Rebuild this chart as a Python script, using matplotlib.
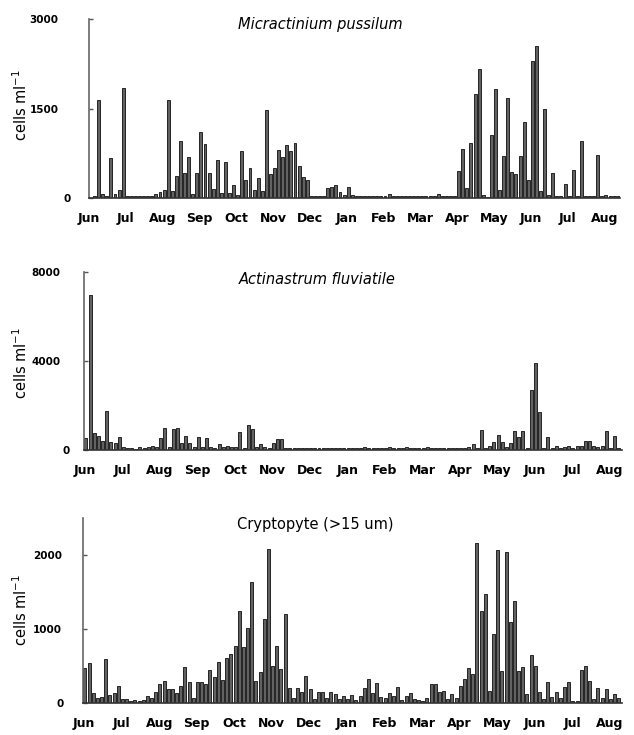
import matplotlib
matplotlib.use('Agg')
import matplotlib.pyplot as plt
import matplotlib.transforms as mtransforms
import numpy as np

months = ['Jun', 'Jul', 'Aug', 'Sep', 'Oct', 'Nov', 'Dec', 'Jan',
          'Feb', 'Mar', 'Apr', 'May', 'Jun', 'Jul', 'Aug']

# cells per ml, one value per sampling date (about 9 per month)
micr = [40, 1640, 60, 40, 670, 60, 130, 1840, 30,
        30, 30, 30, 30, 30, 30, 60, 100, 130,
        1640, 120, 370, 960, 420, 690, 60, 420, 1100,
        900, 420, 150, 640, 80, 610, 80, 210, 50,
        790, 310, 510, 130, 330, 120, 1470, 400, 510,
        800, 680, 890, 790, 930, 530, 360, 310, 40,
        40, 40, 40, 170, 190, 220, 100, 50, 190,
        50, 30, 30, 30, 30, 30, 30, 30, 30,
        60, 30, 30, 30, 30, 30, 30, 30, 30,
        30, 30, 30, 60, 30, 30, 30, 30, 460,
        820, 170, 920, 1740, 2160, 50, 20, 1060, 1830,
        140, 710, 1670, 440, 410, 710, 1270, 300, 2300,
        2550, 120, 1500, 50, 425, 40, 30, 230, 40,
        470, 30, 955, 30, 30, 30, 720, 30, 50,
        30, 30, 30]

act = [525, 6960, 780, 640, 400, 1770, 375, 330, 600,
       120, 80, 100, 60, 120, 90, 150, 200, 150,
       525, 975, 150, 940, 975, 300, 640, 330, 150,
       600, 150, 550, 150, 100, 250, 120, 200, 150,
       120, 820, 100, 1120, 940, 150, 255, 150, 100,
       300, 510, 510, 100, 80, 100, 80, 100, 80,
       100, 80, 100, 80, 100, 80, 100, 80, 100,
       80, 100, 80, 100, 150, 80, 100, 80, 100,
       80, 150, 80, 100, 80, 150, 100, 80, 100,
       80, 150, 80, 100, 80, 100, 80, 100, 80,
       100, 80, 150, 270, 80, 900, 100, 180, 345,
       675, 345, 150, 300, 855, 600, 855, 100, 2700,
       3920, 1690, 100, 600, 100, 200, 100, 150, 180,
       100, 200, 200, 420, 420, 200, 150, 200, 855,
       100, 640, 100]

cryp = [465, 533, 126, 60, 80, 590, 104, 135, 230,
        50, 50, 30, 40, 30, 40, 95, 60, 150,
        257, 298, 185, 185, 135, 230, 480, 285, 60,
        285, 275, 257, 443, 352, 547, 307, 600, 660,
        772, 1242, 759, 1007, 1640, 294, 411, 1130, 2078,
        501, 772, 452, 1197, 203, 60, 194, 140, 366,
        180, 50, 140, 150, 60, 150, 113, 50, 90,
        50, 104, 40, 90, 203, 320, 135, 262, 80,
        60, 135, 90, 217, 40, 90, 135, 50, 40,
        30, 60, 253, 248, 150, 158, 50, 117, 60,
        226, 320, 465, 384, 2160, 1242, 1468, 158, 926,
        2069, 434, 2037, 1089, 1378, 434, 479, 117, 646,
        497, 150, 50, 285, 80, 150, 68, 217, 285,
        30, 20, 438, 497, 298, 50, 194, 60, 185,
        50, 113, 60]

fig = plt.figure(figsize=(6.34, 7.35), dpi=100)

# (data, title, style, axes rect, ymax, yticks, bar offset, xlim, label y, title pos, ytick pad, zero nudge px)
panels = [
    (micr, 'Micractinium pussilum', 'italic', [0.1404, 0.7306, 0.8375, 0.2435],
     3000, [0, 1500, 3000], 0.15, (0.03, 14.42), 0.857, (0.505, 0.966), 22, 12),
    (act, 'Actinastrum fluviatile', 'italic', [0.1325, 0.3878, 0.8486, 0.2426],
     8000, [0, 4000, 8000], 0.02, (-0.03, 14.33), 0.506, (0.500, 0.620), 17, 9),
    (cryp, 'Cryptopyte (>15 um)', 'normal', [0.1309, 0.0439, 0.8502, 0.2513],
     2500, [0, 1000, 2000], 0.02, (-0.03, 14.33), 0.170, (0.498, 0.286), 15, 2),
]

for data, title, style, rect, ymax, yticks, off, xlim, ly, tpos, ypad, nudge in panels:
    ax = fig.add_axes(rect)
    x = off + np.arange(len(data)) / 9.0
    ax.bar(x, data, width=0.08, color='#626262', edgecolor='#1a1a1a', linewidth=0.65)
    ax.set_xlim(*xlim)
    ax.set_ylim(0, ymax)
    ax.set_xticks(np.arange(len(months)))
    ax.set_xticklabels(months, fontsize=9, fontweight='bold')
    ax.set_yticks(yticks)
    ax.set_yticklabels([str(t) for t in yticks], fontsize=7.5, fontweight='bold')
    ax.tick_params(axis='x', length=0, pad=10)
    ax.tick_params(axis='y', direction='in', length=3, width=1, color='#555555', pad=ypad)
    for s in ['top', 'right']:
        ax.spines[s].set_visible(False)
    ax.spines['left'].set_color('#666666')
    ax.spines['left'].set_linewidth(1.2)
    ax.spines['bottom'].set_color('#333333')
    ax.spines['bottom'].set_linewidth(1.2)
    shift = mtransforms.ScaledTranslation(nudge / 100.0, 0, fig.dpi_scale_trans)
    lab0 = ax.get_yticklabels()[0]
    lab0.set_transform(lab0.get_transform() + shift)
    fig.text(tpos[0], tpos[1], title, ha='center', va='center', fontsize=10.5, style=style)
    fig.text(0.033, ly, 'cells ml$^{-1}$', rotation=90, ha='center', va='center', fontsize=10.5)

fig.savefig('out.png', dpi=100)
